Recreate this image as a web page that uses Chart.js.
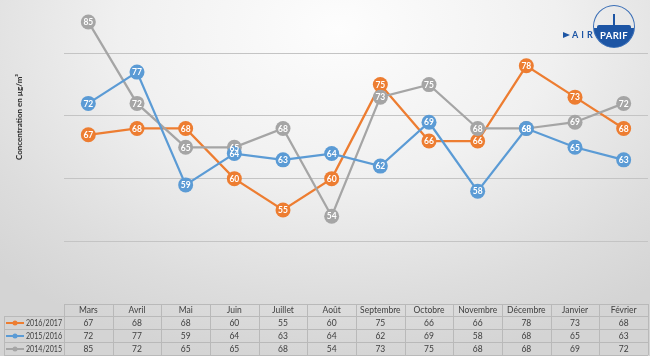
<!DOCTYPE html>
<html>
<head>
<meta charset="utf-8">
<script src="https://cdn.jsdelivr.net/npm/chart.js@4/dist/chart.umd.min.js"></script>
<style>
html,body{margin:0;padding:0;}
#wrap{position:relative;width:650px;height:356px;overflow:hidden;
 background:radial-gradient(ellipse 75% 95% at 52% 8%, #fdfdfd 0%, #f0f0f0 45%, #dddddd 80%, #d4d4d4 100%);}
#c{position:absolute;left:0;top:0;}
#ytitle{position:absolute;left:19px;top:117px;transform:translate(-50%,-50%) rotate(-90deg);
 font:bold 8px Lato, sans-serif;color:#262626;white-space:nowrap;}
#logo{position:absolute;left:560px;top:0;width:90px;height:55px;}
#circle{position:absolute;left:33px;top:5px;width:40px;height:41px;border-radius:50%;border:1px solid #3b6fb6;overflow:hidden;
 background:linear-gradient(to bottom, rgba(255,255,255,0) 0%, rgba(255,255,255,0) 54%, #1d55a4 54%, #1d55a4 100%);}
#spire{position:absolute;left:19px;top:8px;width:1.5px;height:15px;background:#1d55a4;}
#sky1{position:absolute;left:3px;top:19px;width:34px;height:4px;background:#1d55a4;border-radius:2px 2px 0 0;}
#parif{position:absolute;left:0;top:24px;width:40px;text-align:center;font:bold 9.5px Lato, sans-serif;color:#fff;letter-spacing:0.3px;}
#air{position:absolute;left:12px;top:29px;font:bold 9px Lato, sans-serif;color:#1d55a4;letter-spacing:3px;}
#arrow{position:absolute;left:3px;top:32px;width:0;height:0;border-top:3px solid transparent;border-bottom:3px solid transparent;border-left:7px solid #1d55a4;}
</style>
</head>
<body>
<div id="wrap">
<canvas id="c" width="650" height="356"></canvas>
<div id="ytitle">Concentration  en µg/m³</div>
<div id="logo">
 <div id="arrow"></div>
 <div id="air">AIR</div>
 <div id="circle"><div id="spire"></div><div id="sky1"></div><div id="parif">PARIF</div></div>
</div>
</div>
<script>
const months = ['Mars','Avril','Mai','Juin','Juillet','Août','Septembre','Octobre','Novembre','Décembre','Janvier','Février'];
const seriesNames = ['2016/2017','2015/2016','2014/2015'];
const values2016 = [67,68,68,60,55,60,75,66,66,78,73,68];
const values2015 = [72,77,59,64,63,64,62,69,58,68,65,63];
const values2014 = [85,72,65,65,68,54,73,75,68,68,69,72];
const yTicks = [40,50,60,70,80];

const colors = ['#ED7D31','#5B9BD5','#A5A5A5'];
const allValues = [values2016, values2015, values2014];
const orders = [2,0,1];

const tablePlugin = {
  id:'tableAndLabels',
  afterDatasetsDraw(chart){
    const ctx = chart.ctx;
    ctx.save();
    ctx.font = 'bold 8.5px Lato, sans-serif';
    ctx.fillStyle = '#ffffff';
    ctx.textAlign = 'center';
    ctx.textBaseline = 'middle';
    [0,2,1].forEach(di=>{
      const meta = chart.getDatasetMeta(di);
      meta.data.forEach((p,i)=>{
        ctx.fillText(String(chart.data.datasets[di].data[i]), p.x, p.y+0.5);
      });
    });
    ctx.restore();
  },
  afterDraw(chart){
    const ctx = chart.ctx;
    const ca = chart.chartArea;
    const n = months.length;
    const colW = (ca.right - ca.left)/n;
    const top = Math.round(ca.bottom);
    const rowH = [12,13,13,13];
    const ys = [top];
    rowH.forEach(h=>ys.push(ys[ys.length-1]+h));
    const legLeft = 4;
    ctx.save();
    ctx.strokeStyle = '#b9b9b9';
    ctx.lineWidth = 1;
    ctx.beginPath();
    ctx.moveTo(ca.left, ys[0]+0.5); ctx.lineTo(ca.right, ys[0]+0.5);
    for(let r=1;r<ys.length;r++){ ctx.moveTo(legLeft, ys[r]+0.5); ctx.lineTo(ca.right, ys[r]+0.5); }
    for(let k=0;k<=n;k++){
      const x = Math.round(ca.left + k*colW)+0.5;
      ctx.moveTo(x, ys[0]); ctx.lineTo(x, ys[ys.length-1]);
    }
    ctx.moveTo(legLeft+0.5, ys[1]); ctx.lineTo(legLeft+0.5, ys[ys.length-1]);
    ctx.stroke();

    ctx.font = '8.5px Lato, sans-serif';
    ctx.fillStyle = '#404040';
    ctx.textAlign = 'center';
    ctx.textBaseline = 'middle';
    months.forEach((m,i)=>{
      const cx = ca.left + (i+0.5)*colW;
      ctx.fillText(m, cx, (ys[0]+ys[1])/2+0.5);
      allValues.forEach((arr,s)=>{
        ctx.fillText(String(arr[i]), cx, (ys[s+1]+ys[s+2])/2+0.5);
      });
    });
    ctx.font = '8.5px Lato, sans-serif';
    seriesNames.forEach((name,s)=>{
      const cy = (ys[s+1]+ys[s+2])/2+0.5;
      ctx.strokeStyle = colors[s];
      ctx.lineWidth = 2;
      ctx.beginPath(); ctx.moveTo(6, cy); ctx.lineTo(24, cy); ctx.stroke();
      ctx.fillStyle = colors[s];
      ctx.beginPath(); ctx.arc(15, cy, 2.5, 0, Math.PI*2); ctx.fill();
      ctx.fillStyle = '#404040';
      ctx.textAlign = 'left';
      ctx.fillText(name, 26, cy, 36);
    });
    ctx.restore();
  }
};

new Chart(document.getElementById('c'), {
  type:'line',
  data:{
    labels: months,
    datasets: allValues.map((arr,s)=>({
      label: seriesNames[s],
      data: arr,
      borderColor: colors[s],
      backgroundColor: colors[s],
      pointBackgroundColor: colors[s],
      pointBorderColor: colors[s],
      pointBorderWidth: 0,
      pointRadius: 7.5,
      pointHoverRadius: 7.5,
      borderWidth: 2.25,
      tension: 0,
      order: orders[s],
      clip: false
    }))
  },
  options:{
    responsive:false,
    devicePixelRatio:1,
    animation:false,
    events:[],
    layout:{autoPadding:false, padding:{left:64,right:2,top:0,bottom:52}},
    plugins:{legend:{display:false},tooltip:{enabled:false}},
    scales:{
      x:{display:false, offset:true},
      y:{
        min:40, max:88.5,
        afterBuildTicks(axis){ axis.ticks = yTicks.map(v=>({value:v})); },
        ticks:{display:false},
        border:{display:false},
        grid:{color:'#c4c4c4', lineWidth:1, drawTicks:false}
      }
    }
  },
  plugins:[tablePlugin]
});
</script>
</body>
</html>
